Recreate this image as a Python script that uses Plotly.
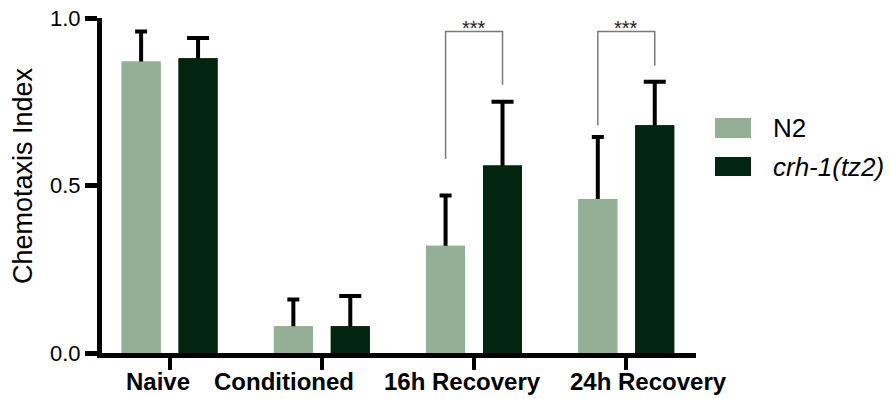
import plotly.graph_objects as go

# Chemotaxis index per condition (mean and SD) for the two strains
categories = ["Naive", "Conditioned", "16h Recovery", "24h Recovery"]
n2_mean = [0.87, 0.08, 0.32, 0.46]
n2_sd = [0.09, 0.08, 0.15, 0.185]
crh_mean = [0.88, 0.08, 0.56, 0.68]
crh_sd = [0.06, 0.09, 0.19, 0.13]
series_names = ["N2", "<i>crh-1(tz2)</i>"]

# significance brackets: (category index, left-leg bottom, right-leg bottom, top, label)
brackets = [
    (2, 0.579, 0.801, 0.960, "***"),
    (3, 0.680, 0.858, 0.960, "***"),
]
y_ticks = [0.0, 0.5, 1.0]

LIGHT = "#93AF95"
DARK = "#02250F"
FONT = "Arial, Liberation Sans, sans-serif"

W, H = 890, 399
ML, MR, MT, MB = 102, 194, 18, 46
PW, PH = W - ML - MR, H - MT - MB

BAR_W = 0.256
OFF = 0.187
# horizontal centres (px) of the category labels, spread so the long names don't collide
LABEL_CX = [157.5, 284.0, 462.5, 648.3]


def px_x(px):
    return (px - ML) / PW


def px_y(py):
    return (H - MB - py) / PH


fig = go.Figure()

# bars with error bars (lower halves are hidden by the covering bars drawn next)
for mean, sd, color, cap, off in [
    (n2_mean, n2_sd, LIGHT, 6, -OFF),
    (crh_mean, crh_sd, DARK, 11, OFF),
]:
    fig.add_trace(go.Bar(
        x=categories, y=mean, width=BAR_W, offset=off - BAR_W / 2,
        marker=dict(color=color, line=dict(width=0)),
        error_y=dict(type="data", array=sd, symmetric=True,
                     color="black", thickness=4, width=cap),
        showlegend=False, hoverinfo="skip",
    ))
for mean, color, off, name in [
    (n2_mean, LIGHT, -OFF, series_names[0]),
    (crh_mean, DARK, OFF, series_names[1]),
]:
    fig.add_trace(go.Bar(
        x=categories, y=mean, width=BAR_W, offset=off - BAR_W / 2,
        marker=dict(color=color, line=dict(width=0)),
        name=name, showlegend=False,
    ))

# significance brackets
for ci, yl, yr, yt, label in brackets:
    xl, xr = ci - OFF, ci + OFF
    fig.add_shape(type="path", xref="x", yref="y",
                  path=f"M {xl},{yl} L {xl},{yt} L {xr},{yt} L {xr},{yr}",
                  line=dict(color="#7a7a7a", width=1.5))
    fig.add_annotation(x=ci, y=yt, xref="x", yref="y", text=label,
                       showarrow=False, yanchor="bottom", yshift=-10,
                       font=dict(family=FONT, size=20, color="#222"))

# category labels
for cx, cat in zip(LABEL_CX, categories):
    fig.add_annotation(x=px_x(cx), y=px_y(381), xref="paper", yref="paper",
                       text=f"<b>{cat}</b>", showarrow=False,
                       xanchor="center", yanchor="middle",
                       font=dict(family=FONT, size=24, color="black"))

# legend drawn as swatches + labels
legend_rows = [(118, 138, LIGHT, series_names[0]), (157, 176, DARK, series_names[1])]
for y0, y1, color, name in legend_rows:
    fig.add_shape(type="rect", xref="paper", yref="paper",
                  x0=px_x(715), x1=px_x(751), y0=px_y(y1), y1=px_y(y0),
                  fillcolor=color, line=dict(width=0))
    fig.add_annotation(x=px_x(771), y=px_y((y0 + y1) / 2), xref="paper", yref="paper",
                       text=name, showarrow=False, xanchor="left", yanchor="middle",
                       font=dict(family=FONT, size=26, color="black"))

# y-axis title
fig.add_annotation(x=px_x(23), y=px_y(176), xref="paper", yref="paper",
                   text="Chemotaxis Index", textangle=-90, showarrow=False,
                   xanchor="center", yanchor="middle",
                   font=dict(family=FONT, size=27, color="black"))

fig.update_layout(
    width=W, height=H,
    margin=dict(l=ML, r=MR, t=MT, b=MB, autoexpand=False),
    plot_bgcolor="white", paper_bgcolor="white",
    barmode="overlay",
    font=dict(family=FONT, color="black"),
    xaxis=dict(
        type="category", range=[-0.444, 3.458], automargin=False,
        showline=True, linecolor="black", linewidth=5,
        ticks="outside", ticklen=12, tickwidth=4, tickcolor="black",
        showticklabels=False,
        showgrid=False, zeroline=False,
    ),
    yaxis=dict(
        range=[0, 1.0], tickvals=y_ticks, tickformat=".1f", automargin=False,
        showline=True, linecolor="black", linewidth=5,
        ticks="outside", ticklen=12, tickwidth=5, tickcolor="black",
        tickfont=dict(family=FONT, size=22, color="black"),
        showgrid=False, zeroline=False,
    ),
)

fig.write_html("out.html")
